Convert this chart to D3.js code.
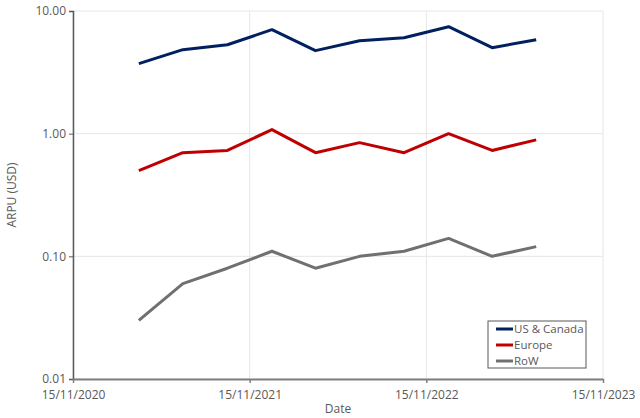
<!DOCTYPE html>
<html>
<head>
<meta charset="utf-8">
<script src="https://cdn.jsdelivr.net/npm/d3@7"></script>
<style>
  body { margin: 0; background: #fff; }
  text { font-family: "Open Sans", "Liberation Sans", sans-serif; }
</style>
</head>
<body>
<div id="chart"></div>
<script>
// quarter-end dates
const dates = ["31/03/2021", "30/06/2021", "30/09/2021", "31/12/2021", "31/03/2022",
               "30/06/2022", "30/09/2022", "31/12/2022", "31/03/2023", "30/06/2023"];
const usCanada = [3.72, 4.84, 5.31, 7.04, 4.75, 5.73, 6.06, 7.45, 5.02, 5.84];
const europe   = [0.50, 0.70, 0.73, 1.08, 0.70, 0.845, 0.70, 1.00, 0.73, 0.89];
const row      = [0.03, 0.06, 0.08, 0.11, 0.08, 0.10, 0.11, 0.14, 0.10, 0.12];
const seriesNames = ["US & Canada", "Europe", "RoW"];
const xTicks = ["15/11/2020", "15/11/2021", "15/11/2022", "15/11/2023"];
const yTicks = [0.01, 0.1, 1, 10];

const parse = d3.timeParse("%d/%m/%Y");
const colors = ["#002060", "#c00000", "#707070"];

const margin = { top: 11, right: 37, bottom: 39, left: 73 };
const width = 640 - margin.left - margin.right;
const height = 418 - margin.top - margin.bottom;

const svg = d3.select("#chart")
    .append("svg")
    .attr("width", 640)
    .attr("height", 418)
    .append("g")
    .attr("transform", `translate(${margin.left},${margin.top})`);

const x = d3.scaleTime()
    .domain([parse(xTicks[0]), parse(xTicks[xTicks.length - 1])])
    .range([0, width]);

const y = d3.scaleLog()
    .domain([0.01, 10])
    .range([height, 0]);

// gridlines
svg.append("g")
    .selectAll("line.h")
    .data(yTicks)
    .enter()
    .append("line")
    .attr("x1", 0).attr("x2", width)
    .attr("y1", d => y(d)).attr("y2", d => y(d))
    .attr("stroke", "#e6e6e6");

svg.append("g")
    .selectAll("line.v")
    .data(xTicks)
    .enter()
    .append("line")
    .attr("x1", d => x(parse(d))).attr("x2", d => x(parse(d)))
    .attr("y1", 0).attr("y2", height)
    .attr("stroke", "#e6e6e6");

// axes
const yAxis = svg.append("g")
    .call(d3.axisLeft(y).tickValues(yTicks).tickFormat(d3.format(".2f")).tickSize(4));
yAxis.select(".domain").attr("stroke", "#595959").attr("stroke-width", 1.5);
yAxis.selectAll(".tick line").attr("stroke", "#595959");
yAxis.selectAll("text").attr("fill", "#595959").style("font-size", "12px").attr("x", -7);

const xAxis = svg.append("g")
    .attr("transform", `translate(0,${height})`)
    .call(d3.axisBottom(x).tickValues(xTicks.map(parse)).tickFormat(d3.timeFormat("%d/%m/%Y")).tickSize(4).tickSizeOuter(0));
xAxis.select(".domain").attr("stroke", "#7f7f7f").attr("stroke-width", 2);
xAxis.selectAll(".tick line").attr("stroke", "#7f7f7f").attr("stroke-width", 1.5);
xAxis.selectAll("text").attr("fill", "#595959").style("font-size", "12px").attr("dy", "1.1em");

// lines
const allSeries = [usCanada, europe, row];
const line = d3.line()
    .x((d, i) => x(parse(dates[i])))
    .y(d => y(d));

svg.selectAll(".series")
    .data(allSeries)
    .enter()
    .append("path")
    .attr("class", "series")
    .attr("d", d => line(d))
    .attr("fill", "none")
    .attr("stroke", (d, i) => colors[i])
    .attr("stroke-width", 3)
    .attr("stroke-linejoin", "round");

// axis labels
svg.append("text")
    .attr("x", -height / 2)
    .attr("y", -margin.left + 16)
    .attr("text-anchor", "middle")
    .attr("transform", "rotate(-90)")
    .attr("fill", "#595959")
    .style("font-size", "12px")
    .text("ARPU (USD)");

svg.append("text")
    .attr("x", width / 2)
    .attr("y", height + 34)
    .attr("text-anchor", "middle")
    .attr("fill", "#595959")
    .style("font-size", "12px")
    .text("Date");

// legend
const legend = svg.append("g")
    .attr("transform", `translate(${488 - margin.left},${321 - margin.top})`);
legend.append("rect")
    .attr("width", 98).attr("height", 47)
    .attr("fill", "#fff")
    .attr("stroke", "#595959");
seriesNames.forEach((name, i) => {
    const g = legend.append("g").attr("transform", `translate(8,${8 + i * 16})`);
    g.append("line")
        .attr("x1", 0).attr("x2", 17)
        .attr("stroke", colors[i]).attr("stroke-width", 3);
    g.append("text")
        .attr("x", 18).attr("dy", "0.35em")
        .attr("fill", "#595959")
        .style("font-size", "11.5px")
        .text(name);
});
</script>
</body>
</html>
